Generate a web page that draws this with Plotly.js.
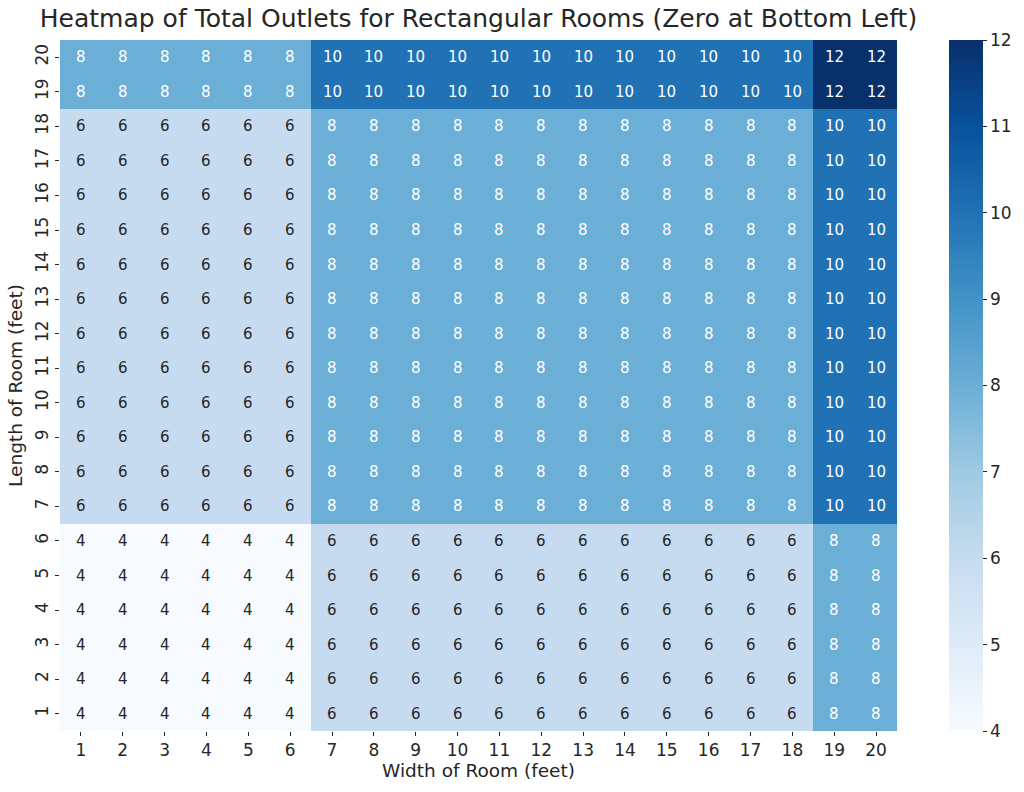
<!DOCTYPE html>
<html>
<head>
<meta charset="utf-8">
<script src="https://cdn.plot.ly/plotly-3.0.1.min.js"></script>
<style>body{margin:0;padding:0;background:#fff;} #chart{width:1024px;height:792px;}</style>
</head>
<body>
<div id="chart"></div>
<script>
// Widths (x) and lengths (y) in feet
const widths = [1,2,3,4,5,6,7,8,9,10,11,12,13,14,15,16,17,18,19,20];
const lengths = [1,2,3,4,5,6,7,8,9,10,11,12,13,14,15,16,17,18,19,20];

// Rows of total outlets (one per length value, width 1..20)
const rowLen1to6   = [4,4,4,4,4,4,6,6,6,6,6,6,6,6,6,6,6,6,8,8];
const rowLen7to18  = [6,6,6,6,6,6,8,8,8,8,8,8,8,8,8,8,8,8,10,10];
const rowLen19to20 = [8,8,8,8,8,8,10,10,10,10,10,10,10,10,10,10,10,10,12,12];

const outlets = [
  rowLen1to6, rowLen1to6, rowLen1to6, rowLen1to6, rowLen1to6, rowLen1to6,
  rowLen7to18, rowLen7to18, rowLen7to18, rowLen7to18, rowLen7to18, rowLen7to18,
  rowLen7to18, rowLen7to18, rowLen7to18, rowLen7to18, rowLen7to18, rowLen7to18,
  rowLen19to20, rowLen19to20
];

const colorbarTicks = [4,5,6,7,8,9,10,11,12];

const blues = [
  [0.0,'#f7fbff'],[0.125,'#deebf7'],[0.25,'#c6dbef'],[0.375,'#9ecae1'],
  [0.5,'#6baed6'],[0.625,'#4292c6'],[0.75,'#2171b5'],[0.875,'#08519c'],[1.0,'#08306b']
];

const textColor = '#262626';
const FONT = 'DejaVu Sans, sans-serif';

const annotations = [];
for (let i = 0; i < lengths.length; i++) {
  for (let j = 0; j < widths.length; j++) {
    const v = outlets[i][j];
    annotations.push({
      x: widths[j], y: lengths[i], xref: 'x', yref: 'y',
      text: String(v), showarrow: false,
      font: {family: FONT, size: 15, color: v >= 8 ? '#ffffff' : textColor}
    });
  }
}

const trace = {
  type: 'heatmap',
  x: widths,
  y: lengths,
  z: outlets,
  zmin: 4, zmax: 12,
  colorscale: blues,
  xgap: 0, ygap: 0,
  hoverinfo: 'x+y+z',
  colorbar: {
    x: 949/1024, xanchor: 'left', xref: 'container',
    y: 0.5, yanchor: 'middle', len: 1, lenmode: 'fraction',
    thickness: 34, thicknessmode: 'pixels',
    outlinewidth: 0,
    tickvals: colorbarTicks, ticktext: colorbarTicks.map(String),
    ticks: 'outside', ticklen: 4, tickwidth: 1, tickcolor: textColor,
    tickfont: {family: FONT, size: 17, color: textColor},
    xpad: 0, ypad: 0
  }
};

const layout = {
  width: 1024, height: 792,
  margin: {l: 60, r: 127, t: 40, b: 61, pad: 0, autoexpand: false},
  paper_bgcolor: '#ffffff', plot_bgcolor: '#ffffff',
  font: {family: FONT, color: textColor},
  title: {
    text: 'Heatmap of Total Outlets for Rectangular Rooms (Zero at Bottom Left)',
    font: {family: FONT, size: 25, color: textColor},
    x: 478.5/1024, xref: 'container', xanchor: 'center',
    y: 1 - 18/792, yref: 'container', yanchor: 'middle'
  },
  xaxis: {
    range: [0.5, 20.5],
    tickvals: widths, ticktext: widths.map(String),
    title: {text: 'Width of Room (feet)', font: {family: FONT, size: 18.5, color: textColor}, standoff: 4},
    ticks: 'outside', ticklen: 4, tickwidth: 1, tickcolor: textColor,
    tickfont: {family: FONT, size: 17, color: textColor},
    showgrid: false, zeroline: false, showline: false
  },
  yaxis: {
    range: [0.5, 20.5],
    tickvals: lengths, ticktext: lengths.map(String),
    title: {text: 'Length of Room (feet)', font: {family: FONT, size: 18.5, color: textColor}, standoff: 4},
    ticks: 'outside', ticklen: 4, tickwidth: 1, tickcolor: textColor,
    tickangle: -90,
    tickfont: {family: FONT, size: 17, color: textColor},
    showgrid: false, zeroline: false, showline: false
  },
  annotations: annotations
};

Plotly.newPlot('chart', [trace], layout, {displayModeBar: false, staticPlot: true});
</script>
</body>
</html>
